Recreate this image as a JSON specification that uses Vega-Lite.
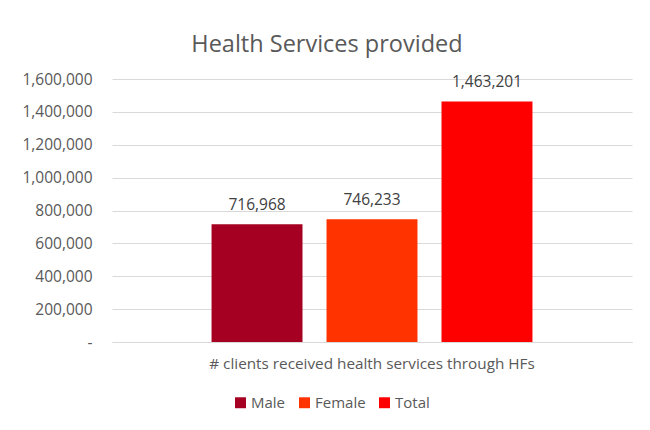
{
  "$schema": "https://vega.github.io/schema/vega-lite/v6.json",
  "width": 520,
  "height": 263,
  "autosize": {"type": "none"},
  "padding": {"left": 112, "top": 79, "right": 18, "bottom": 88},
  "background": "white",
  "title": {
    "text": "Health Services provided",
    "anchor": "middle",
    "frame": "bounds",
    "font": "Open Sans",
    "fontSize": 23.5,
    "fontWeight": "normal",
    "color": "#595959",
    "offset": 16
  },
  "data": {
    "values": [
      {"category": "# clients received health services through HFs", "series": "Male", "value": 716968},
      {"category": "# clients received health services through HFs", "series": "Female", "value": 746233},
      {"category": "# clients received health services through HFs", "series": "Total", "value": 1463201}
    ]
  },
  "encoding": {
    "x": {
      "field": "category",
      "type": "nominal",
      "scale": {"paddingInner": 0, "paddingOuter": 0.254},
      "axis": {
        "title": null,
        "labelAngle": 0,
        "labelLimit": 0,
        "labelFont": "Open Sans",
        "labelFontSize": 15.3,
        "labelColor": "#595959",
        "labelPadding": 14,
        "ticks": false,
        "domainColor": "#d9d9d9",
        "domainWidth": 1
      }
    },
    "xOffset": {
      "field": "series",
      "type": "nominal",
      "sort": ["Male", "Female", "Total"],
      "scale": {"paddingInner": 0.209, "paddingOuter": 0.104}
    },
    "y": {
      "field": "value",
      "type": "quantitative",
      "scale": {"domain": [0, 1600000], "nice": false},
      "axis": {
        "title": null,
        "values": [0, 200000, 400000, 600000, 800000, 1000000, 1200000, 1400000, 1600000],
        "labelExpr": "datum.value == 0 ? '-' : format(datum.value, ',')",
        "labelFont": "Open Sans",
        "labelFontSize": 15.5,
        "labelColor": "#595959",
        "labelPadding": 20,
        "ticks": false,
        "domain": false,
        "gridColor": "#d9d9d9",
        "gridWidth": 1
      }
    }
  },
  "layer": [
    {
      "mark": {"type": "bar"},
      "encoding": {
        "color": {
          "field": "series",
          "type": "nominal",
          "sort": ["Male", "Female", "Total"],
          "scale": {"domain": ["Male", "Female", "Total"], "range": ["#A50021", "#FF3300", "#FF0000"]},
          "legend": {
            "title": null,
            "orient": "none",
            "direction": "horizontal",
            "legendX": 121,
            "legendY": 316,
            "symbolType": "square",
            "symbolSize": 120,
            "symbolStrokeWidth": 0,
            "labelFont": "Open Sans",
            "labelFontSize": 15,
            "labelColor": "#595959",
            "labelOffset": 3,
            "columnPadding": 11
          }
        }
      }
    },
    {
      "mark": {"type": "text", "baseline": "middle", "dy": -19, "font": "Open Sans", "fontSize": 15.5, "color": "#404040"},
      "encoding": {
        "text": {"field": "value", "type": "quantitative", "format": ","}
      }
    }
  ],
  "config": {
    "view": {"stroke": null}
  }
}
